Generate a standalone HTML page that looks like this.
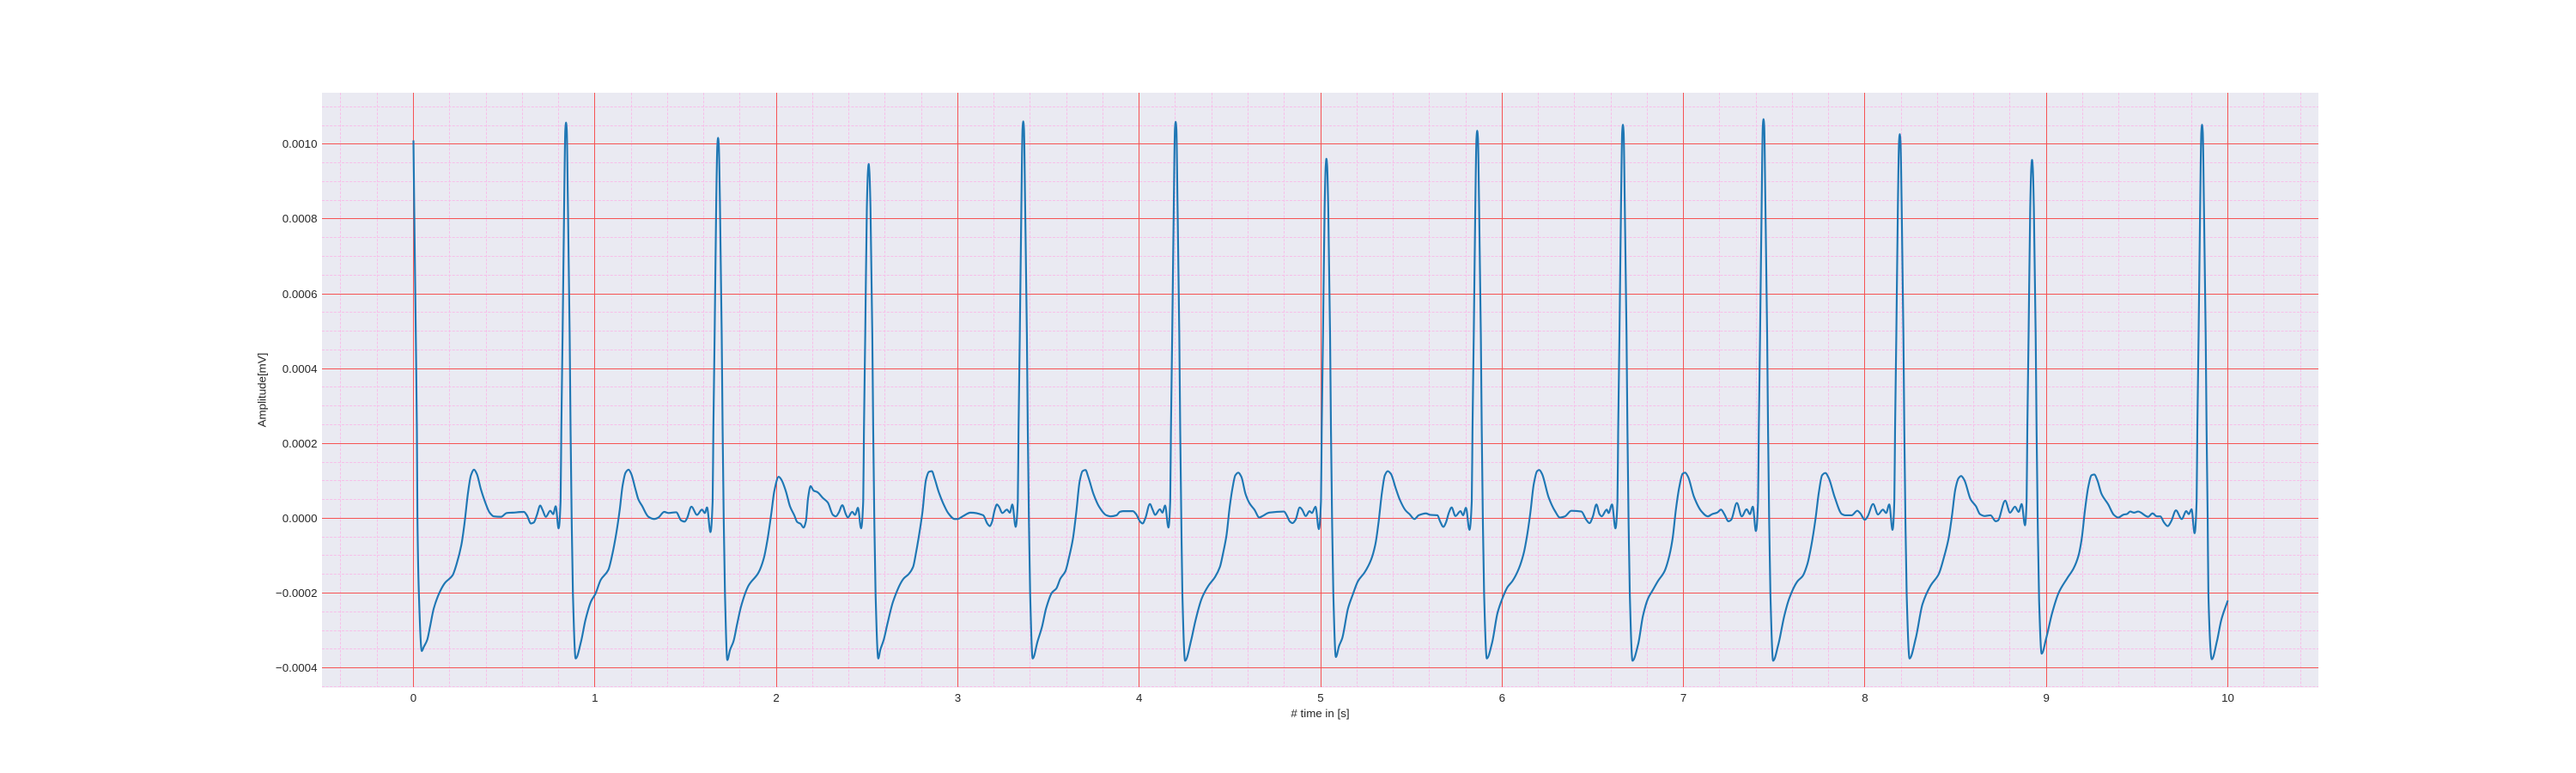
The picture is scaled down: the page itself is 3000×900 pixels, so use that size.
<!DOCTYPE html>
<html lang="en">
<head>
<meta charset="utf-8">
<title>ECG amplitude over time</title>
<style>
html,body{margin:0;padding:0;background:#fff;}
svg{display:block;}
text{font-family:"Liberation Sans",Arial,sans-serif;font-size:13.33px;fill:#262626;}
</style>
</head>
<body>
<svg id="chart" width="3000" height="900" viewBox="0 0 3000 900" xmlns="http://www.w3.org/2000/svg">
  <rect x="0" y="0" width="3000" height="900" fill="#ffffff"/>
  <rect x="375" y="108" width="2325" height="692.5" fill="#eaeaf2"/>
  <g id="minor-grid"></g>
  <g id="major-grid"></g>
  <path id="ecg-line" fill="none" stroke="#1f77b4" stroke-width="2.15" stroke-linejoin="round" stroke-linecap="butt"/>
  <g id="x-tick-labels"></g>
  <g id="y-tick-labels"></g>
  <text x="1537.5" y="835" text-anchor="middle"># time in [s]</text>
  <text transform="translate(309.5,454) rotate(-90)" text-anchor="middle">Amplitude[mV]</text>
</svg>
<script>
const xTicks = [0, 1, 2, 3, 4, 5, 6, 7, 8, 9, 10];
const yTicks = [-0.0004, -0.0002, 0, 0.0002, 0.0004, 0.0006, 0.0008, 0.001];
const xMinorTicks = [-0.4,-0.2,0.2,0.4,0.6,0.8,1.2,1.4,1.6,1.8,2.2,2.4,2.6,2.8,3.2,3.4,3.6,3.8,4.2,4.4,4.6,4.8,5.2,5.4,5.6,5.8,6.2,6.4,6.6,6.8,7.2,7.4,7.6,7.8,8.2,8.4,8.6,8.8,9.2,9.4,9.6,9.8,10.2,10.4];
const yMinorTicks = [-0.00045,-0.00035,-0.0003,-0.00025,-0.00015,-0.0001,-0.00005,0.00005,0.0001,0.00015,0.00025,0.0003,0.00035,0.00045,0.0005,0.00055,0.00065,0.0007,0.00075,0.00085,0.0009,0.00095,0.00105,0.0011];

// Time in seconds.
const timeSeconds = [
0,.006,.013,.019,.022,.030,.046,.057,.076,.091,.112,.151,.175,.215,.238,.265,.281,.301,.317,.334,.349,.372,.396,.420,.443,.483,.514,.546,.609,.625,.648,.664,.680,.699,.711,.730,.754,.770,.784,.800,
.811,.815,.822,.831,.837,.841,.845,.851,.861,.866,.872,.879,
.894,.924,.948,.979,1.003,1.032,1.074,1.098,1.121,1.137,1.153,1.169,1.186,1.200,1.224,1.240,1.259,1.295,1.327,1.350,1.382,1.405,1.448,1.476,1.495,1.508,1.532,1.563,1.590,1.606,1.618,1.637,
1.649,1.653,1.660,1.669,1.675,1.679,1.683,1.689,1.699,1.704,1.710,1.717,
1.730,1.745,1.764,1.784,1.805,1.847,1.902,1.931,1.950,1.973,1.989,2.013,2.028,2.052,2.076,2.099,2.115,2.134,2.150,2.163,2.175,2.189,2.205,2.226,2.257,2.284,2.312,2.328,2.344,2.364,2.383,2.394,2.418,2.434,2.450,2.467,
2.479,2.483,2.490,2.499,2.505,2.509,2.513,2.519,2.529,2.534,2.540,2.547,
2.562,2.573,2.592,2.612,2.644,2.702,2.730,2.754,2.770,2.789,2.805,2.825,2.841,2.857,2.872,2.896,2.928,2.947,2.983,2.999,3.030,3.070,3.140,3.164,3.177,3.188,3.204,3.216,3.227,3.246,3.271,3.287,3.301,3.319,
3.331,3.335,3.342,3.351,3.357,3.361,3.365,3.371,3.381,3.386,3.392,3.399,
3.413,3.440,3.464,3.487,3.519,3.543,3.566,3.593,3.614,3.634,3.653,3.672,3.688,3.704,3.719,3.748,3.779,3.819,3.842,3.875,3.893,3.911,3.965,3.983,4.005,4.019,4.034,4.059,4.074,4.088,4.114,4.128,4.143,4.161,
4.171,4.175,4.182,4.191,4.197,4.201,4.205,4.211,4.221,4.226,4.232,4.238,
4.253,4.287,4.309,4.345,4.382,4.418,4.445,4.463,4.481,4.499,4.514,4.530,4.546,4.563,4.586,4.608,4.635,4.662,4.680,4.717,4.798,4.813,4.831,4.845,4.862,4.885,4.898,4.918,4.939,4.952,4.972,4.990,
5.002,5.006,5.013,5.022,5.028,5.032,5.036,5.042,5.052,5.057,5.063,5.070,
5.084,5.102,5.119,5.151,5.178,5.206,5.242,5.278,5.302,5.320,5.338,5.354,5.370,5.387,5.414,5.436,5.468,5.490,5.517,5.541,5.581,5.604,5.644,5.658,5.677,5.691,5.707,5.722,5.743,5.771,5.785,5.801,5.820,
5.833,5.837,5.844,5.853,5.859,5.863,5.867,5.873,5.883,5.888,5.894,5.901,
5.916,5.945,5.975,6.002,6.030,6.057,6.093,6.120,6.138,6.156,6.175,6.193,6.205,6.220,6.256,6.292,6.319,6.346,6.382,6.437,6.464,6.482,6.500,6.520,6.537,6.549,6.577,6.587,6.606,6.625,
6.636,6.640,6.647,6.656,6.662,6.666,6.670,6.676,6.686,6.691,6.697,6.704,
6.719,6.750,6.777,6.805,6.832,6.859,6.895,6.922,6.940,6.958,6.977,6.995,7.009,7.025,7.058,7.098,7.134,7.158,7.185,7.207,7.225,7.248,7.263,7.294,7.321,7.348,7.366,7.382,7.399,
7.411,7.415,7.422,7.431,7.437,7.441,7.445,7.451,7.461,7.466,7.472,7.479,
7.494,7.523,7.556,7.583,7.629,7.656,7.683,7.706,7.728,7.746,7.764,7.782,7.801,7.833,7.873,7.891,7.927,7.958,7.973,8.000,8.014,8.045,8.072,8.099,8.117,8.134,8.152,
8.162,8.166,8.173,8.182,8.188,8.192,8.196,8.202,8.212,8.217,8.223,8.230,
8.246,8.280,8.317,8.362,8.407,8.434,8.461,8.480,8.498,8.516,8.530,8.547,8.583,8.612,8.634,8.661,8.692,8.721,8.733,8.773,8.800,8.827,8.847,8.864,8.882,
8.891,8.895,8.902,8.911,8.917,8.921,8.925,8.931,8.941,8.946,8.952,8.960,
8.974,8.999,9.032,9.068,9.114,9.150,9.177,9.195,9.213,9.231,9.249,9.264,9.280,9.304,9.341,9.372,9.396,9.427,9.443,9.462,9.483,9.506,9.561,9.585,9.609,9.628,9.648,9.669,9.688,9.714,9.746,9.771,9.785,9.800,9.817,
9.828,9.832,9.839,9.848,9.854,9.858,9.862,9.868,9.878,9.883,9.889,9.893,
9.912,9.940,9.964,10.0
];

// Amplitude in millionths of a mV (1010 = 0.00101 mV).
const amplitudeMicroMv = [
1010,760,490,237,0,-202,-355,-344,-325,-291,-241,-191,-172,-153,-122,-69,-15,69,115,130,119,77,42,15,5,4,14,15,17,8,-14,-11,8,34,23,4,20,11,32,-27,
46,237,490,850,1038,1058,1038,850,490,237,0,-202,
-375,-329,-272,-222,-202,-165,-138,-92,-31,23,88,122,130,119,77,50,34,4,-2,2,17,14,16,-6,-9,0,31,9,23,14,29,-37,
46,237,490,850,997,1017,997,850,490,237,0,-202,
-379,-352,-329,-283,-237,-180,-145,-107,-61,15,73,111,103,73,31,8,-10,-15,-25,-8,54,86,74,70,54,42,9,5,15,35,11,2,17,9,28,-27,
46,237,490,830,927,947,927,830,490,237,0,-202,
-375,-352,-325,-283,-222,-161,-149,-130,-92,-38,15,103,124,126,107,69,31,14,-2,-2,6,15,8,-15,-21,-11,23,37,31,14,23,15,37,-23,
46,237,490,850,1041,1061,1041,850,490,237,0,-202,
-375,-329,-291,-241,-199,-188,-161,-142,-103,-57,15,99,126,129,111,65,31,8,5,8,17,19,19,11,-9,-14,0,38,23,9,24,15,34,-25,
46,237,490,850,1040,1060,1040,850,490,237,0,-202,
-381,-325,-276,-214,-180,-157,-130,-92,-46,31,80,115,122,111,65,40,23,2,6,15,18,8,-9,-13,-4,29,23,6,19,14,31,-29,
46,237,490,830,941,961,941,830,490,237,0,-202,
-371,-341,-321,-241,-203,-168,-145,-111,-69,-8,69,115,126,119,80,50,21,11,-2,8,13,9,8,-8,-23,-11,15,29,6,19,8,28,-31,
46,237,490,850,1016,1036,1016,850,490,237,0,-202,
-375,-333,-253,-214,-184,-168,-134,-92,-46,15,92,126,129,119,57,19,2,5,20,18,-4,-13,4,37,11,5,23,14,37,-27,
46,237,490,850,1032,1052,1032,850,490,237,0,-202,
-381,-337,-260,-214,-191,-168,-142,-100,-54,23,84,119,122,111,57,19,5,11,15,23,11,-8,-4,41,5,24,11,31,-34,
46,237,490,850,1047,1067,1047,850,490,237,0,-202,
-381,-337,-260,-214,-168,-155,-122,-69,0,69,115,121,107,57,11,8,8,20,14,-4,4,38,10,23,14,37,-31,
46,237,490,850,1007,1027,1007,850,490,237,0,-202,
-375,-321,-230,-180,-149,-107,-54,8,77,107,113,103,50,32,11,6,8,-8,-6,47,15,31,17,38,-19,
46,237,490,830,938,958,938,830,490,237,0,-222,
-362,-321,-253,-199,-161,-134,-100,-54,23,84,115,117,103,65,37,9,2,10,11,18,15,18,4,13,5,5,-11,-21,-8,21,-2,19,11,24,-40,
46,237,490,850,1032,1052,1032,850,490,237,0,-202,
-377,-329,-272,-220
];

const SVG_NS = 'http://www.w3.org/2000/svg';
const PLOT_LEFT = 375, PLOT_RIGHT = 2700, PLOT_TOP = 108, PLOT_BOTTOM = 800;

function xScale(t) {
  return 481.5 + 211.3 * t;
}
function yScale(v) {
  return 603.4 - 435.5 * (v * 1000);
}
function snap(p) {
  return Math.floor(p) + 0.5;
}

function addLine(parent, x1, y1, x2, y2, stroke, dash) {
  const el = document.createElementNS(SVG_NS, 'line');
  el.setAttribute('x1', x1);
  el.setAttribute('y1', y1);
  el.setAttribute('x2', x2);
  el.setAttribute('y2', y2);
  el.setAttribute('stroke', stroke);
  el.setAttribute('stroke-width', '1');
  if (dash) el.setAttribute('stroke-dasharray', dash);
  parent.appendChild(el);
  return el;
}

// Monotone cubic path through screen points, so smoothing never overshoots the read values.
function monotonePath(px, py) {
  const n = px.length;
  const slope = [];
  for (let i = 0; i < n - 1; i++) {
    slope.push((py[i + 1] - py[i]) / (px[i + 1] - px[i]));
  }
  const tangent = [slope[0]];
  for (let i = 1; i < n - 1; i++) {
    if (slope[i - 1] * slope[i] <= 0) {
      tangent.push(0);
    } else {
      const a = px[i] - px[i - 1], b = px[i + 1] - px[i];
      tangent.push(3 * (a + b) / ((2 * b + a) / slope[i - 1] + (b + 2 * a) / slope[i]));
    }
  }
  tangent.push(slope[n - 2]);
  let path = 'M' + px[0].toFixed(2) + ' ' + py[0].toFixed(2);
  for (let i = 0; i < n - 1; i++) {
    const h = (px[i + 1] - px[i]) / 3;
    path += 'C' + (px[i] + h).toFixed(2) + ' ' + (py[i] + tangent[i] * h).toFixed(2) + ' ' +
      (px[i + 1] - h).toFixed(2) + ' ' + (py[i + 1] - tangent[i + 1] * h).toFixed(2) + ' ' +
      px[i + 1].toFixed(2) + ' ' + py[i + 1].toFixed(2);
  }
  return path;
}

const minorGrid = document.getElementById('minor-grid');
const majorGrid = document.getElementById('major-grid');
const xLabels = document.getElementById('x-tick-labels');
const yLabels = document.getElementById('y-tick-labels');

xMinorTicks.forEach(function (t) {
  const px = snap(xScale(t));
  const el = addLine(minorGrid, px, PLOT_TOP, px, PLOT_BOTTOM, '#f7bfe9', '3,1.6');
  
  
});
yMinorTicks.forEach(function (v) {
  const py = snap(yScale(v));
  const el = addLine(minorGrid, PLOT_LEFT, py, PLOT_RIGHT, py, '#f7bfe9', '3,1.6');
  
  
});
xTicks.forEach(function (t) {
  const px = snap(xScale(t));
  const el = addLine(majorGrid, px, PLOT_TOP, px, PLOT_BOTTOM, '#f65353');
  
  
  const label = document.createElementNS(SVG_NS, 'text');
  
  
  label.setAttribute('x', xScale(t));
  label.setAttribute('y', 817);
  label.setAttribute('text-anchor', 'middle');
  label.textContent = String(t);
  xLabels.appendChild(label);
});
yTicks.forEach(function (v) {
  const py = snap(yScale(v));
  const el = addLine(majorGrid, PLOT_LEFT, py, PLOT_RIGHT, py, '#f65353');
  
  
  const label = document.createElementNS(SVG_NS, 'text');
  
  
  label.setAttribute('x', 369.5);
  label.setAttribute('y', py + 4.5);
  label.setAttribute('text-anchor', 'end');
  label.textContent = v.toFixed(4).replace('-', '\u2212');
  yLabels.appendChild(label);
});

const linePx = timeSeconds.map(function (t) {
  return xScale(t);
});
const linePy = amplitudeMicroMv.map(function (a) {
  return yScale(a / 1e6);
});
document.getElementById('ecg-line').setAttribute('d', monotonePath(linePx, linePy));
</script>
</body>
</html>
